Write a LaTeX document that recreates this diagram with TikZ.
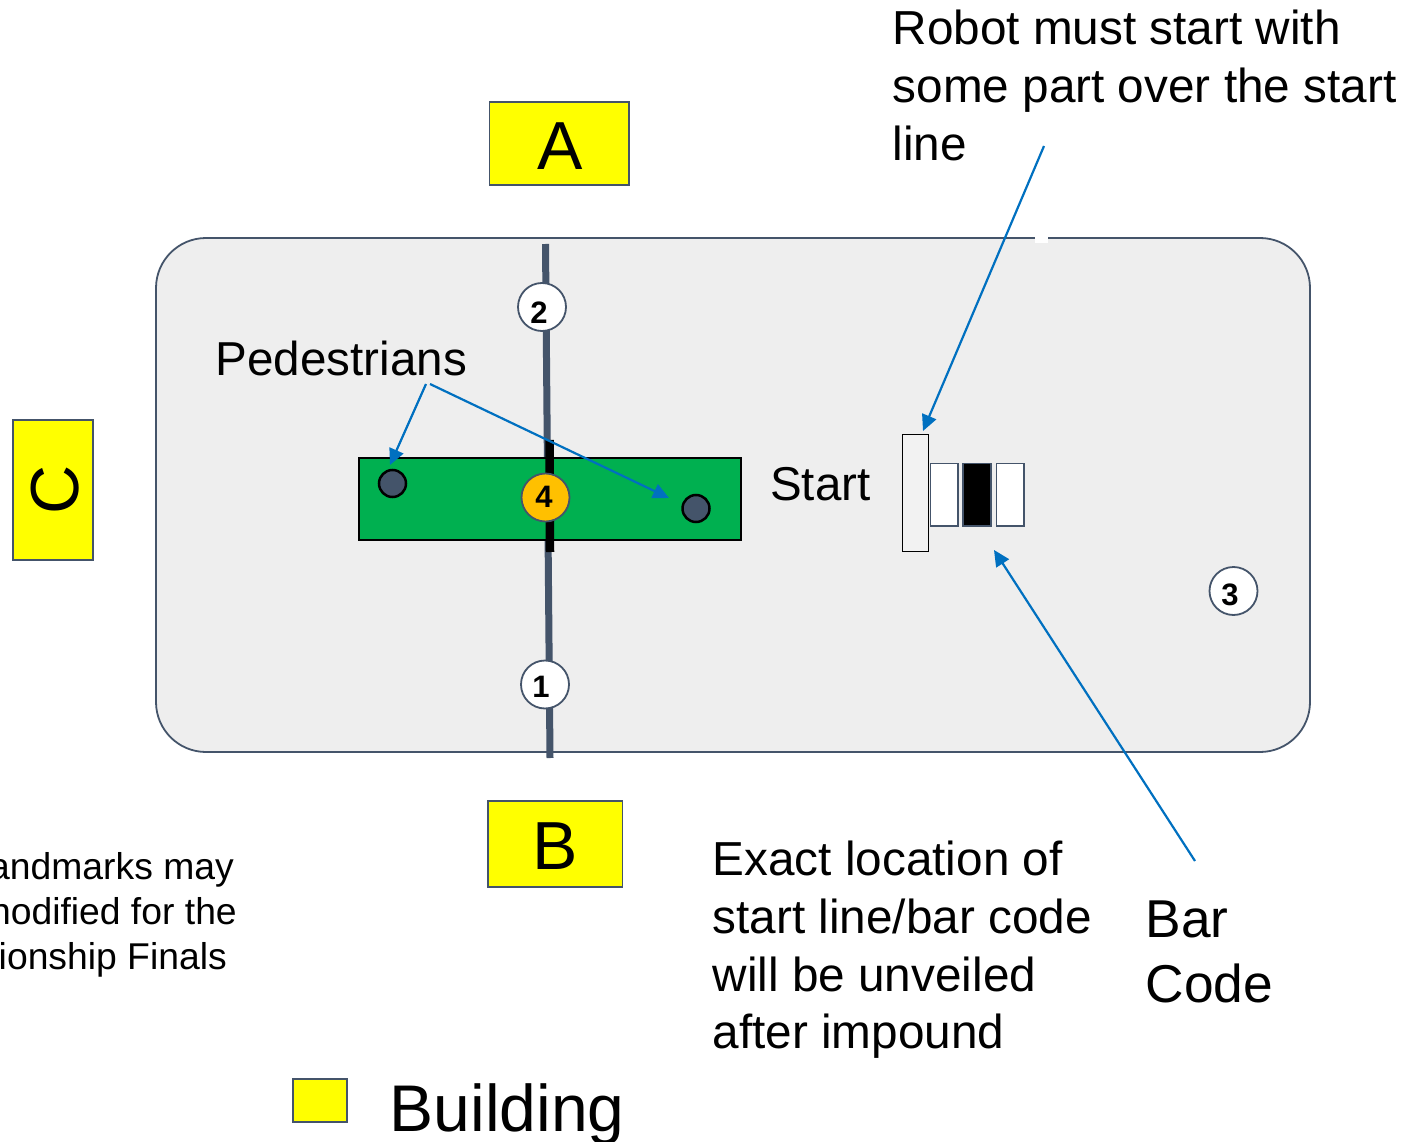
\documentclass[tikz,border=0pt]{standalone}
\usepackage{fontspec}
\setmainfont{Liberation Sans}
\usetikzlibrary{arrows.meta}
\definecolor{slate}{HTML}{44546A}
\definecolor{blu}{HTML}{0070C0}
\definecolor{grn}{HTML}{00B050}
\definecolor{org}{HTML}{FFC000}
\definecolor{fld}{HTML}{EEEEEE}
\definecolor{ylw}{HTML}{FFFF00}
\newcommand{\fs}[1]{\fontsize{#1}{#1}\selectfont}
\tikzset{
  x=1pt,y=-1pt,
  bldg/.style={draw=slate,line width=1.3pt,fill=ylw,inner sep=0pt},
  lbl/.style={inner sep=0pt,anchor=base west,text=black},
  multi/.style={inner sep=0pt,anchor=north west,align=left,text=black},
  num/.style={circle,draw=slate,line width=1.8pt,fill=white,minimum size=48pt,inner sep=0pt},
  digit/.style={inner sep=0pt,font=\fs{31}\bfseries},
  dot/.style={circle,draw=black,line width=2.5pt,fill=slate,minimum size=27pt,inner sep=0pt},
  barw/.style={draw=slate,line width=1.8pt,fill=white},
  callout/.style={draw=blu,line width=2.2pt,-{Triangle[length=16pt,width=15pt]}},
}
\begin{document}
\begin{tikzpicture}
\useasboundingbox (0,0) rectangle (1406,1142);
\clip (0,0) rectangle (1406,1142);
% field
\path[draw=slate,line width=1.8pt,fill=fld,rounded corners=50pt] (156,238) rectangle (1310,752);
\fill[white] (1035,234) rectangle (1048,243);
% centre line
\draw[slate,line width=7pt] (545.5,244) -- (550,758);
% green
\node[draw=black,line width=2.5pt,fill=grn,inner sep=0pt,minimum width=382pt,minimum height=82pt] (zone) at (550,499) {};
\draw[black,line width=8.5pt] (549.5,440) -- (550,552);
% buildings
\node[bldg,minimum width=139.5pt,minimum height=83pt] (A) at (559.2,143.5) {};
\node[inner sep=0pt,font=\fs{68}] (At) at (560,146) {A};
\node[bldg,minimum width=134.5pt,minimum height=86pt] (B) at (555.2,844) {};
\node[inner sep=0pt,font=\fs{68}] (Bt) at (555.5,846) {B};
\node[bldg,minimum width=80pt,minimum height=140pt] (C) at (53,490) {};
\node[inner sep=0pt,rotate=90,font=\fs{68}] (Ct) at (55,490) {C};
\node[bldg,minimum width=54pt,minimum height=43pt] (legend) at (320,1100.5) {};
% numbered circles
\node[num] (n2) at (542,307) {};
\node[digit] (d2) at (539,313) {2};
\node[num] (n1) at (545,684.5) {};
\node[digit] (d1) at (541,687) {1};
\node[num] (n3) at (1233.5,591) {};
\node[digit] (d3) at (1230,595) {3};
\node[num,fill=org] (n4) at (545.5,497.5) {};
\node[digit] (d4) at (544,497) {4};
% pedestrians
\node[dot] (p1) at (392.5,483.5) {};
\node[dot] (p2) at (696,508.5) {};
% start and bar code
\node[draw=black,line width=1pt,fill=black!5,inner sep=0pt,minimum width=26pt,minimum height=117.5pt] (startbar) at (915.2,493) {};
\node[barw,inner sep=0pt,minimum width=27.5pt,minimum height=62.5pt] (b1) at (944.2,494.8) {};
\node[barw,fill=black,inner sep=0pt,minimum width=27.5pt,minimum height=62.5pt] (b2) at (977,494.8) {};
\node[barw,inner sep=0pt,minimum width=27.5pt,minimum height=62.5pt] (b3) at (1010.2,494.8) {};
% texts
\node[lbl,font=\fs{47.6}] (ped) at (215.5,375) {Pedestrians};
\node[lbl,font=\fs{47.5}] (st) at (770,500.5) {Start};
\node[multi,font=\fs{47.7}] (robot) at (892.5,10) {Robot must start with\\[10pt]some part over the start\\[10pt]line};
\node[multi,font=\fs{47.7}] (exact) at (712.5,841) {Exact location of\\[10pt]start line/bar code\\[10pt]will be unveiled\\[10pt]after impound};
\node[multi,font=\fs{53.3}] (bar) at (1145.5,900.5) {Bar\\[11.7pt]Code};
\node[multi,font=\fs{37.3},anchor=north east,align=right] (land) at (237,852) {andmarks may\rule{3pt}{0pt}\\[8pt]nodified for the\\[8pt]ionship Finals\rule{10pt}{0pt}};
\node[lbl,font=\fs{66}] (bldg) at (389.5,1131) {Building};
% callouts
\coordinate (ra) at (1044,146);
\coordinate (rb) at (923,431);
\coordinate (ba) at (1195,861);
\coordinate (bb) at (994,550);
\coordinate (pa) at (426,384);
\coordinate (pb) at (390,465);
\coordinate (pc) at (430,384);
\coordinate (pd) at (669,498);
\draw[callout] (ra) -- (rb);
\draw[callout] (ba) -- (bb);
\draw[callout] (pa) -- (pb);
\draw[callout] (pc) -- (pd);
\end{tikzpicture}
\end{document}
